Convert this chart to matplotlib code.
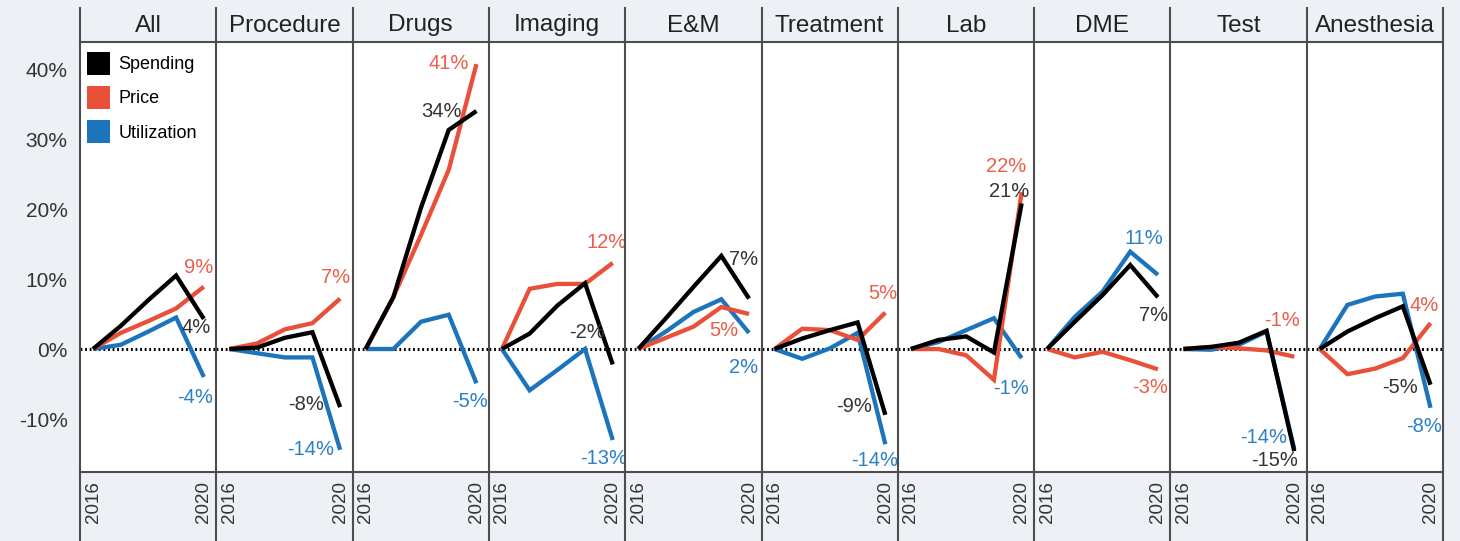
import numpy as np
import matplotlib
matplotlib.use("Agg")
import matplotlib.pyplot as plt
from matplotlib.lines import Line2D
from matplotlib.patches import Patch

plt.rcParams['font.family'] = ['Liberation Sans', 'DejaVu Sans']

# ---- data: cumulative % change since 2016 ----
years = [2016, 2017, 2018, 2019, 2020]
categories = ['All', 'Procedure', 'Drugs', 'Imaging', 'E&M',
              'Treatment', 'Lab', 'DME', 'Test', 'Anesthesia']

spending = [
    [0, 3.3, 7.0, 10.5, 4.3],
    [0, 0.2, 1.6, 2.4, -8.3],
    [0, 7.4, 20.2, 31.3, 34.0],
    [0, 2.2, 6.2, 9.4, -2.2],
    [0, 4.4, 8.9, 13.3, 7.2],
    [0, 1.5, 2.7, 3.8, -9.4],
    [0, 1.3, 1.8, -0.5, 20.8],
    [0, 3.9, 7.7, 12.0, 7.4],
    [0, 0.3, 0.9, 2.6, -14.6],
    [0, 2.5, 4.4, 6.1, -5.1],
]
price = [
    [0, 2.3, 4.0, 5.8, 8.9],
    [0, 0.8, 2.8, 3.7, 7.2],
    [0, 7.4, 16.3, 25.6, 40.7],
    [0, 8.6, 9.3, 9.3, 12.3],
    [0, 1.6, 3.2, 6.0, 5.0],
    [0, 2.9, 2.7, 1.3, 5.2],
    [0, 0.0, -0.9, -4.4, 22.4],
    [0, -1.2, -0.4, -1.6, -2.9],
    [0, 0.3, 0.1, -0.2, -1.1],
    [0, -3.6, -2.8, -1.3, 3.7],
]
utilization = [
    [0, 0.6, 2.5, 4.5, -4.0],
    [0, -0.6, -1.2, -1.2, -14.4],
    [0, 0.0, 3.9, 4.9, -4.9],
    [0, -5.9, -3.0, 0.0, -13.0],
    [0, 2.5, 5.3, 7.1, 2.3],
    [0, -1.4, 0.1, 2.3, -13.6],
    [0, 1.0, 2.7, 4.4, -1.3],
    [0, 4.6, 8.2, 13.9, 10.6],
    [0, -0.1, 0.6, 2.5, -14.3],
    [0, 6.3, 7.5, 7.9, -8.4],
]

series_names = ['Spending', 'Price', 'Utilization']
yticks = [-10, 0, 10, 20, 30, 40]

# ---- end-label placement (pixel offsets from the 2020 point: right edge dx, vertical dy) ----
spend_lbl = [(7, -9), (-16, 3), (-15, 0), (-8, 32), (9, 39),
             (-13, 8), (8, 12), (10, -18), (4, -9), (-13, -3)]
price_lbl = [(9, 19), (10, 21), (-8, 1), (14, 20), (-11, -16),
             (12, 19), (5, 26), (10, -18), (6, 36), (8, 18)]
util_lbl = [(9, -20), (-6, 0), (11, -18), (14, -18), (9, -35),
            (13, -16), (7, -30), (5, 36), (-7, 12), (11, -19)]

# ---- style ----
BG = '#EDF1F5'
EDGE = '#4D4D4D'
line_colors = {'Spending': '#000000', 'Price': '#E9503A', 'Utilization': '#1C74BC'}
text_colors = {'Spending': '#333333', 'Price': '#EA5E48', 'Utilization': '#2A80C6'}

W, H = 1460, 541
fig, axes = plt.subplots(1, len(categories), figsize=(W / 100, H / 100), dpi=100,
                         sharey=True)
fig.patch.set_facecolor(BG)
L, R, TOP, BOT = 80, 1443, 42, 472
fig.subplots_adjust(left=L / W, right=R / W, bottom=1 - BOT / H, top=1 - TOP / H, wspace=0)

x = np.arange(len(years))
for i, (ax, cat) in enumerate(zip(axes, categories)):
    ax.set_facecolor('white')
    ax.axhline(0, color='black', lw=2.2, ls=(0, (0.6, 0.9)), zorder=1)
    data = {'Spending': spending[i], 'Price': price[i], 'Utilization': utilization[i]}
    offs = {'Spending': spend_lbl[i], 'Price': price_lbl[i], 'Utilization': util_lbl[i]}
    for name in ['Utilization', 'Price', 'Spending']:
        vals = data[name]
        ax.plot(x, vals, color=line_colors[name], lw=3.1, zorder=3,
                solid_joinstyle='miter', solid_capstyle='butt')
        end = vals[-1]
        dx, dy = offs[name]
        ax.annotate(f"{int(np.round(end))}%", xy=(x[-1], end),
                    xytext=(dx * 0.72, dy * 0.72), textcoords='offset points',
                    ha='right', va='center', fontsize=14.5,
                    color=text_colors[name], zorder=4, annotation_clip=False)

    ax.set_xlim(-0.47, len(years) - 1 + 0.45)
    ax.set_ylim(-17.57, 43.86)
    ax.set_xticks([0, len(years) - 1])
    ax.set_xticklabels([str(years[0]), str(years[-1])], rotation=90,
                       fontsize=13.5, color='#333333')
    ax.tick_params(axis='x', length=0, pad=6.5)
    ax.tick_params(axis='y', length=0, pad=9, labelsize=15, labelcolor='#333333')
    for s in ['left', 'right']:
        ax.spines[s].set_visible(False)
    for s in ['top', 'bottom']:
        ax.spines[s].set_color(EDGE)
        ax.spines[s].set_linewidth(1.5)
    ax.text(0.5, 1 + 16.5 / (BOT - TOP), cat, transform=ax.transAxes,
            ha='center', va='center', fontsize=17.5, color='#222222')

axes[0].set_yticks(yticks)
axes[0].set_yticklabels([f"{v}%" for v in yticks])

# legend with square swatches
handles = [Patch(facecolor=line_colors[n], edgecolor='none', label=n) for n in series_names]
axes[0].legend(handles=handles, loc='upper left',
               bbox_to_anchor=(7 / 136, 1 - 9.5 / (BOT - TOP)),
               frameon=False, fontsize=13, handlelength=1.3, handleheight=1.6,
               handletextpad=0.45, labelspacing=0.62, borderpad=0, borderaxespad=0)

# panel separators running through header and year strip
fig.canvas.draw()
xs = [axes[0].get_position().x0] + [a.get_position().x1 for a in axes]
for xv in xs:
    fig.add_artist(Line2D([xv, xv], [0, 1 - 8 / H], transform=fig.transFigure,
                          color=EDGE, lw=1.5))

fig.savefig('out.png', dpi=100, facecolor=BG)
